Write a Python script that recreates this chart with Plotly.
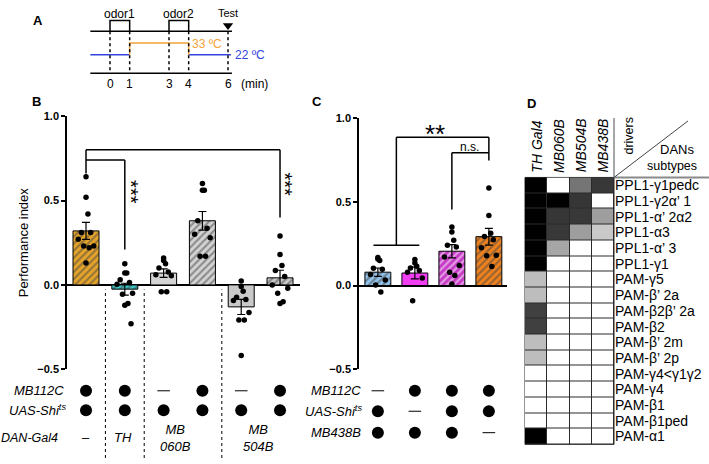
import plotly.graph_objects as go

W, H = 709, 464
def X(p): return p / W
def Y(p): return 1 - p / H

FONT = "Arial, Liberation Sans, sans-serif"

# ---------------- DATA ----------------
# Panel A (protocol schematic)
ODOR_WINDOWS = [(0, 1), (3, 4)]
ODOR_LABELS = ["odor1", "odor2"]
TIME_TICKS = [0, 1, 3, 4, 6]
TEST_TIME = 6
T_START, T_END = -1, 6.2
TEMP_LOW, TEMP_HIGH = 22, 33
HEAT_ON, HEAT_OFF = 1, 4

# Panel B
B_groups = ["MB112C/+ ; Shi/+", "MB112C>Shi ; TH", "Shi ; MB060B",
            "MB112C>Shi ; MB060B", "Shi ; MB504B", "MB112C>Shi ; MB504B"]
B_means = [0.32, -0.025, 0.07, 0.38, -0.13, 0.042]
B_sem = [0.05, 0.035, 0.025, 0.055, 0.045, 0.045]
B_points = [
    [0.64, 0.52, 0.42, 0.31, 0.31, 0.27, 0.23, 0.23, 0.22, 0.13],
    [0.125, 0.07, 0.07, 0.03, 0.015, 0.004, -0.05, -0.055, -0.11, -0.12, -0.23],
    [0.16, 0.145, 0.125, 0.10, 0.077, 0.06, 0.054, -0.04, -0.04],
    [0.60, 0.56, 0.56, 0.38, 0.335, 0.30, 0.28, 0.17, 0.17],
    [0.023, -0.01, -0.038, -0.073, -0.086, -0.092, -0.163, -0.207, -0.207, -0.418],
    [0.29, 0.18, 0.115, 0.085, 0.05, 0.0, -0.02, -0.05, -0.10, -0.11],
]
B_MB112C = [1, 1, 0, 1, 0, 1]
B_UAS = [1, 1, 1, 1, 1, 1]
B_DAN = ["–", "<i>TH</i>", "<i>MB<br>060B</i>", "<i>MB<br>504B</i>"]

# Panel C
C_groups = ["Shi ; MB438B", "MB112C ; MB438B", "MB112C>Shi ; MB438B", "MB112C>Shi"]
C_means = [0.08, 0.075, 0.205, 0.292]
C_sem = [0.025, 0.035, 0.04, 0.05]
C_points = [
    [0.168, 0.158, 0.149, 0.104, 0.097, 0.066, 0.033, 0.004, -0.039],
    [0.155, 0.135, 0.115, 0.105, 0.09, 0.08, 0.045, -0.09],
    [0.35, 0.32, 0.27, 0.24, 0.23, 0.17, 0.12, 0.08, 0.06, 0.01],
    [0.583, 0.419, 0.313, 0.293, 0.274, 0.226, 0.181, 0.178, 0.114],
]
C_MB112C = [0, 1, 1, 1]
C_UAS = [1, 0, 1, 1]
C_MB438B = [1, 1, 1, 0]

# Panel D
D_drivers = ["TH Gal4", "MB060B", "MB504B", "MB438B"]
D_subtypes = ["PPL1-γ1pedc", "PPL1-γ2α’ 1", "PPL1-α’ 2α2", "PPL1-α3", "PPL1-α’ 3",
              "PPL1-γ1", "PAM-γ5", "PAM-β’ 2a", "PAM-β2β’ 2a", "PAM-β2", "PAM-β’ 2m",
              "PAM-β’ 2p", "PAM-γ4&lt;γ1γ2", "PAM-γ4", "PAM-β1", "PAM-β1ped", "PAM-α1"]
D_levels = [
    [1.00, 0.00, 0.54, 0.78],
    [1.00, 1.00, 0.79, 0.00],
    [1.00, 0.79, 0.78, 0.38],
    [1.00, 0.78, 0.38, 0.21],
    [1.00, 0.35, 0.00, 0.00],
    [1.00, 0.00, 0.00, 0.00],
    [0.26, 0.00, 0.00, 0.00],
    [0.26, 0.00, 0.00, 0.00],
    [0.75, 0.00, 0.00, 0.00],
    [0.75, 0.00, 0.00, 0.00],
    [0.26, 0.00, 0.00, 0.00],
    [0.26, 0.00, 0.00, 0.00],
    [0.00, 0.00, 0.00, 0.00],
    [0.00, 0.00, 0.00, 0.00],
    [0.00, 0.00, 0.00, 0.00],
    [0.00, 0.00, 0.00, 0.00],
    [1.00, 0.00, 0.00, 0.00],
]

# ---------------- STYLE ----------------
B_colors = ["#E6A52A", "#3CC6C6", "#D4D4D4", "#D4D4D4", "#C9C9C9", "#C9C9C9"]
B_hatch = ["/", "/", "", "/", "", "/"]
C_colors = ["#92C2EA", "#F23EF2", "#C63AC6", "#F0821E"]
C_hatch = ["/", "", "/", "/"]
JIT = [0.0, 0.0, 0.05, -0.12, 0.12, -0.2, 0.2, -0.06, 0.08, 0.0, 0.16, -0.16]
ROW_B = [0, 1, 2.4]
ROW_C = [0, 1.05, 2.15]
BLUE = "#3344DD"
ORANGE = "#F2A33A"
HATCH = dict(fgcolor="black", size=5, solidity=0.42)

fig = go.Figure()
shapes = []
ann = []

def line(x0, y0, x1, y1, xref, yref, color="black", width=1.5, dash=None, layer="above"):
    d = dict(type="line", x0=x0, y0=y0, x1=x1, y1=y1, xref=xref, yref=yref,
             line=dict(color=color, width=width), layer=layer)
    if dash:
        d["line"]["dash"] = dash
    shapes.append(d)

def text(x, y, t, xref, yref, size=12, color="black", xanchor="center", yanchor="middle",
         angle=0, xshift=0, yshift=0):
    ann.append(dict(x=x, y=y, text=t, xref=xref, yref=yref, showarrow=False,
                    font=dict(size=size, color=color, family=FONT),
                    xanchor=xanchor, yanchor=yanchor, textangle=angle,
                    xshift=xshift, yshift=yshift))

# ---------------- Panel B ----------------
bx = list(range(len(B_groups)))
fig.add_trace(go.Bar(x=bx, y=B_means, width=0.67, xaxis="x", yaxis="y",
                     marker=dict(color=B_colors, line=dict(color="black", width=1),
                                 pattern=dict(shape=B_hatch, **HATCH)),
                     error_y=dict(type="data", array=B_sem, color="black", thickness=1.2, width=4),
                     showlegend=False))
px_, py_ = [], []
for i, pts in enumerate(B_points):
    for j, v in enumerate(pts):
        px_.append(bx[i] + JIT[j % len(JIT)])
        py_.append(v)
fig.add_trace(go.Scatter(x=px_, y=py_, mode="markers", xaxis="x", yaxis="y",
                         marker=dict(color="black", size=5.5), showlegend=False, cliponaxis=False))

# brackets B
line(0, 0.80, 5, 0.80, "x", "y")
line(5, 0.80, 5, 0.40, "x", "y")
line(0, 0.80, 0, 0.66, "x", "y")
line(0, 0.74, 1, 0.74, "x", "y")
line(1, 0.74, 1, 0.21, "x", "y")
text(1.21, 0.55, "***", "x", "y", size=20, angle=90, xshift=-2)
text(5.18, 0.595, "***", "x", "y", size=20, angle=90, xshift=-2)

# separators
for s in [0.5, 1.5, 3.5]:
    line(s, 0, s, Y(291), "x", "paper", width=1, dash="dot")

# genotype table B
def dots(xs, flags, row, xa, ya):
    on_x = [x for x, f in zip(xs, flags) if f]
    off_x = [x for x, f in zip(xs, flags) if not f]
    fig.add_trace(go.Scatter(x=on_x, y=[row] * len(on_x), mode="markers", xaxis=xa, yaxis=ya,
                             marker=dict(color="black", size=12), showlegend=False, cliponaxis=False))
    if off_x:
        fig.add_trace(go.Scatter(x=off_x, y=[row] * len(off_x), mode="markers", xaxis=xa, yaxis=ya,
                                 marker=dict(symbol="line-ew", size=9, line=dict(color="black", width=1)),
                                 showlegend=False, cliponaxis=False))

dots(bx, B_MB112C, ROW_B[0], "x", "y5")
dots(bx, B_UAS, ROW_B[1], "x", "y5")
for xpos, t in zip([0, 0.95, 2.3, 4.45], B_DAN):
    text(xpos, ROW_B[2], t, "x", "y5", size=13)
text(X(66), ROW_B[0], "<i>MB112C</i>", "paper", "y5", size=13, xanchor="right")
text(X(68), ROW_B[1], "<i>UAS-Shi<sup>ts</sup></i>", "paper", "y5", size=13, xanchor="right")
text(X(60), ROW_B[2], "<i>DAN-Gal4</i>", "paper", "y5", size=12.5, xanchor="right")

# ---------------- Panel C ----------------
cx = list(range(len(C_groups)))
fig.add_trace(go.Bar(x=cx, y=C_means, width=0.7, xaxis="x2", yaxis="y2",
                     marker=dict(color=C_colors, line=dict(color="black", width=1),
                                 pattern=dict(shape=C_hatch, **HATCH)),
                     error_y=dict(type="data", array=C_sem, color="black", thickness=1.2, width=4),
                     showlegend=False))
px_, py_ = [], []
for i, pts in enumerate(C_points):
    for j, v in enumerate(pts):
        px_.append(cx[i] + JIT[j % len(JIT)])
        py_.append(v)
fig.add_trace(go.Scatter(x=px_, y=py_, mode="markers", xaxis="x2", yaxis="y2",
                         marker=dict(color="black", size=5.5), showlegend=False, cliponaxis=False))

line(0.5, 0.885, 3, 0.885, "x2", "y2")
line(0.5, 0.885, 0.5, 0.241, "x2", "y2")
line(-0.12, 0.241, 1.12, 0.241, "x2", "y2")
line(3, 0.885, 3, 0.747, "x2", "y2")
line(2, 0.793, 3, 0.793, "x2", "y2")
line(2, 0.793, 2, 0.454, "x2", "y2")
text(1.55, 0.905, "**", "x2", "y2", size=26)
text(2.48, 0.83, "n.s.", "x2", "y2", size=12)

dots(cx, C_MB112C, ROW_C[0], "x2", "y6")
dots(cx, C_UAS, ROW_C[1], "x2", "y6")
dots(cx, C_MB438B, ROW_C[2], "x2", "y6")
text(X(363), ROW_C[0], "<i>MB112C</i>", "paper", "y6", size=13, xanchor="right")
text(X(364), ROW_C[1], "<i>UAS-Shi<sup>ts</sup></i>", "paper", "y6", size=13, xanchor="right")
text(X(363), ROW_C[2], "<i>MB438B</i>", "paper", "y6", size=13, xanchor="right")

# ---------------- Panel A ----------------
L_TOP, L_BOT, L_ODOR = 26, 69, 15
def temp_level(t):
    return 50 - (t - TEMP_LOW) * 12.0 / (TEMP_HIGH - TEMP_LOW)

line(T_START, L_TOP, T_END, L_TOP, "x3", "y3")
line(T_START, L_BOT, T_END, L_BOT, "x3", "y3")
for (a, b), lab in zip(ODOR_WINDOWS, ODOR_LABELS):
    fig.add_trace(go.Scatter(x=[a, a, b, b], y=[L_TOP, L_ODOR, L_ODOR, L_TOP], mode="lines",
                             xaxis="x3", yaxis="y3", line=dict(color="black", width=1.5),
                             showlegend=False, cliponaxis=False))
    text((a + b) / 2, 8, lab, "x3", "y3", size=12)
for t in TIME_TICKS:
    line(t, L_TOP, t, L_BOT, "x3", "y3", width=1.5, dash="dot")
    text(t, 80, str(t), "x3", "y3", size=12)
text(6.55, 80, "(min)", "x3", "y3", size=12, xanchor="left")
lo, hi = temp_level(TEMP_LOW), temp_level(TEMP_HIGH)
fig.add_trace(go.Scatter(x=[T_START, HEAT_ON], y=[lo, lo], mode="lines", xaxis="x3", yaxis="y3",
                         line=dict(color=BLUE, width=1.5), showlegend=False, cliponaxis=False))
fig.add_trace(go.Scatter(x=[HEAT_OFF, T_END - 0.05], y=[lo, lo], mode="lines", xaxis="x3", yaxis="y3",
                         line=dict(color=BLUE, width=1.5), showlegend=False, cliponaxis=False))
fig.add_trace(go.Scatter(x=[HEAT_ON, HEAT_ON, HEAT_OFF, HEAT_OFF], y=[lo, hi, hi, lo], mode="lines",
                         xaxis="x3", yaxis="y3", line=dict(color=ORANGE, width=1.5),
                         showlegend=False, cliponaxis=False))
fig.add_trace(go.Scatter(x=[TEST_TIME], y=[20], mode="markers", xaxis="x3", yaxis="y3",
                         marker=dict(symbol="triangle-down", size=9, color="black"),
                         showlegend=False, cliponaxis=False))
text(TEST_TIME, 7, "Test", "x3", "y3", size=11)
text(HEAT_OFF + 0.08, hi + 0.5, "33 ºC", "x3", "y3", size=12, color=ORANGE, xanchor="left")
text(T_END + 0.05, lo + 0.5, "22 ºC", "x3", "y3", size=12, color=BLUE, xanchor="left")

# ---------------- Panel D ----------------
fig.add_trace(go.Heatmap(z=D_levels, x=D_drivers, y=D_subtypes, xaxis="x4", yaxis="y4",
                         colorscale=[[0, "white"], [1, "black"]], zmin=0, zmax=1,
                         showscale=False, xgap=1, ygap=1, hoverinfo="skip"))
shapes.append(dict(type="rect", xref="x4 domain", yref="y4 domain", x0=0, x1=1, y0=0, y1=1,
                   fillcolor="#2a2a2a", line=dict(color="#2a2a2a", width=1), layer="below"))
for d in D_drivers:
    text(d, Y(173), "<i>%s</i>" % d, "x4", "paper", size=14, angle=-90, yanchor="bottom")
line(X(614), Y(115), X(614), Y(176), "paper", "paper", color="#8a8a8a", width=1.5)
line(X(614), Y(176), X(709), Y(176), "paper", "paper", color="#8a8a8a", width=2)
line(X(614), Y(176), X(688), Y(118), "paper", "paper", color="#444", width=1)
text(X(629), Y(133), "drivers", "paper", "paper", size=12.5, angle=-90)
text(X(677), Y(147), "DANs", "paper", "paper", size=13)
text(X(672), Y(164), "subtypes", "paper", "paper", size=12.5)

# panel letters
for lab, xp, yp in [("A", 38, 15), ("B", 36, 98), ("C", 317, 98), ("D", 531, 100)]:
    text(X(xp), Y(yp), "<b>%s</b>" % lab, "paper", "paper", size=13)

# ---------------- Layout ----------------
yticks = dict(tickvals=[-0.5, 0, 0.5, 1.0], ticktext=["<b>−0.5</b>", "<b>0.0</b>", "<b>0.5</b>", "<b>1.0</b>"],
              range=[-0.5, 1.0], showline=True, linecolor="black", linewidth=1.5, ticks="outside",
              ticklen=4, tickwidth=1.5, tickcolor="black", showgrid=False, zeroline=True,
              zerolinecolor="black", zerolinewidth=1.5, tickfont=dict(size=11, color="black", family=FONT))
hidden = dict(showline=False, showticklabels=False, showgrid=False, zeroline=False, ticks="")

fig.update_layout(
    autosize=True, margin=dict(l=0, r=0, t=0, b=0),
    paper_bgcolor="white", plot_bgcolor="rgba(0,0,0,0)",
    font=dict(family=FONT, color="black"),
    xaxis=dict(domain=[X(67), X(300)], range=[-0.49, 5.515], anchor="y", **hidden),
    yaxis=dict(domain=[Y(373), Y(113)], anchor="x",
               title=dict(text="Performance index", standoff=6,
                          font=dict(size=13, color="black", family=FONT)), **yticks),
    xaxis2=dict(domain=[X(359), X(507)], range=[-0.51, 3.49], anchor="y2", **hidden),
    yaxis2=dict(domain=[Y(373), Y(115)], anchor="x2", **yticks),
    xaxis3=dict(domain=[X(80), X(280)], range=[-1.525, 8.643], anchor="y3", **hidden),
    yaxis3=dict(domain=[Y(90), Y(0)], range=[90, 0], anchor="x3", **hidden),
    xaxis4=dict(domain=[X(525), X(614)], anchor="y4", showticklabels=False, ticks="",
                showgrid=False, zeroline=False),
    yaxis4=dict(domain=[Y(450), Y(176)], anchor="x4", side="right", autorange="reversed",
                ticks="", showgrid=False, zeroline=False, tickmode="array",
                tickvals=D_subtypes, ticktext=D_subtypes,
                tickfont=dict(size=14, color="black", family=FONT)),
    yaxis5=dict(domain=[Y(463), Y(380)], range=[3.4, -0.75], anchor="x", **hidden),
    yaxis6=dict(domain=[Y(463), Y(380)], range=[3.4, -0.75], anchor="x2", **hidden),
    shapes=shapes, annotations=ann,
)

fig.write_html("out.html", default_width="100vw", default_height="100vh",
               config={"displayModeBar": False},
               post_script="document.documentElement.style.overflow='hidden';"
                           "document.body.style.margin='0';document.body.style.overflow='hidden';")
